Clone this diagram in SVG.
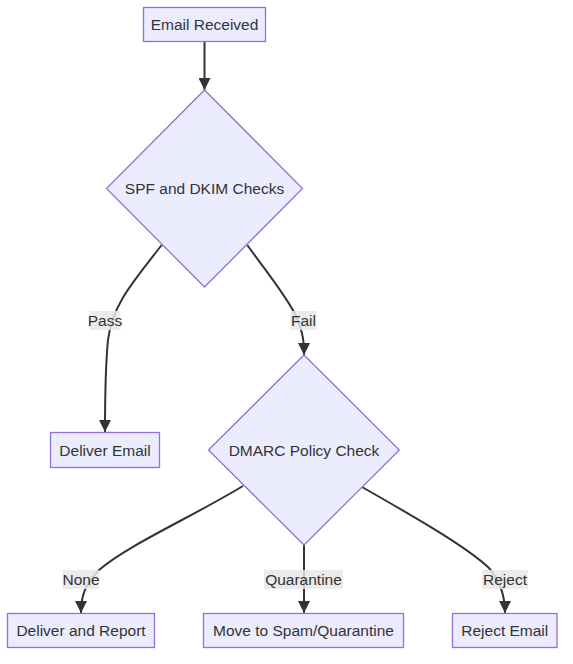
<svg xmlns="http://www.w3.org/2000/svg" width="573" height="664" viewBox="0 0 573 664">
<style>
.node rect, .node polygon { fill: #ECECFF; stroke: #9370DB; stroke-width: 1.3; }
.node text, .label text { font-family: "Liberation Sans", Arial, sans-serif; font-size: 15.5px; fill: #333333; text-anchor: middle; dominant-baseline: central; }
.edge { fill: none; stroke: #333333; stroke-width: 2; marker-end: url(#arrow); }
.label rect { fill: #e8e8e8; opacity: 0.85; }
</style>
<defs>
<marker id="arrow" viewBox="0 0 10 10" refX="10" refY="5" markerUnits="userSpaceOnUse" markerWidth="12" markerHeight="12" orient="auto">
<path d="M0,0 L10,5 L0,10 z" fill="#333333"/>
</marker>
</defs>
<rect width="573" height="664" fill="#ffffff"/>
<g id="connectors">
<path class="edge" d="M204.5,41.5 L204.5,90"/>
<path class="edge" d="M161.7,245 C133,282 112,305 108,340 C105,370 105,400 105,432"/>
<path class="edge" d="M247.3,245 C268,274 288,298 297,318 C303,332 304,342 304,355"/>
<path class="edge" d="M243,486 C190,518 128,545 99,570 C85,584 81,596 81,613"/>
<path class="edge" d="M304,545 L304,613"/>
<path class="edge" d="M362,487 C420,520 468,548 489,568 C501,582 505,596 505,613"/>
</g>
<g id="edge-labels">
<g class="label"><rect x="89.5" y="311" width="31" height="19"/><text x="105" y="320.5">Pass</text></g>
<g class="label"><rect x="290.5" y="311" width="26" height="19"/><text x="303.5" y="320.5">Fail</text></g>
<g class="label"><rect x="62.7" y="570" width="36.5" height="19"/><text x="81" y="579.5">None</text></g>
<g class="label"><rect x="264" y="570" width="79" height="19"/><text x="303.5" y="579.5">Quarantine</text></g>
<g class="label"><rect x="482" y="570" width="46" height="19"/><text x="505" y="579.5">Reject</text></g>
</g>
<g id="node-email-received" class="node"><rect x="143.5" y="7.5" width="122" height="34"/><text x="204.5" y="24.5">Email Received</text></g>
<g id="node-spf-dkim" class="node"><polygon points="204.5,90 302.5,188.5 204.5,287 106.5,188.5"/><text x="204.5" y="188.5">SPF and DKIM Checks</text></g>
<g id="node-deliver-email" class="node"><rect x="50.5" y="432.5" width="109" height="35"/><text x="105" y="450">Deliver Email</text></g>
<g id="node-dmarc" class="node"><polygon points="304,355 399.3,450 304,545 208.5,450"/><text x="304" y="450">DMARC Policy Check</text></g>
<g id="node-deliver-report" class="node"><rect x="7.5" y="613.5" width="147" height="34"/><text x="81" y="630.5">Deliver and Report</text></g>
<g id="node-move-spam" class="node"><rect x="203.5" y="613.5" width="200" height="34"/><text x="303.5" y="630.5">Move to Spam/Quarantine</text></g>
<g id="node-reject-email" class="node"><rect x="452.5" y="613.5" width="104.5" height="34"/><text x="504.75" y="630.5">Reject Email</text></g>
</svg>
